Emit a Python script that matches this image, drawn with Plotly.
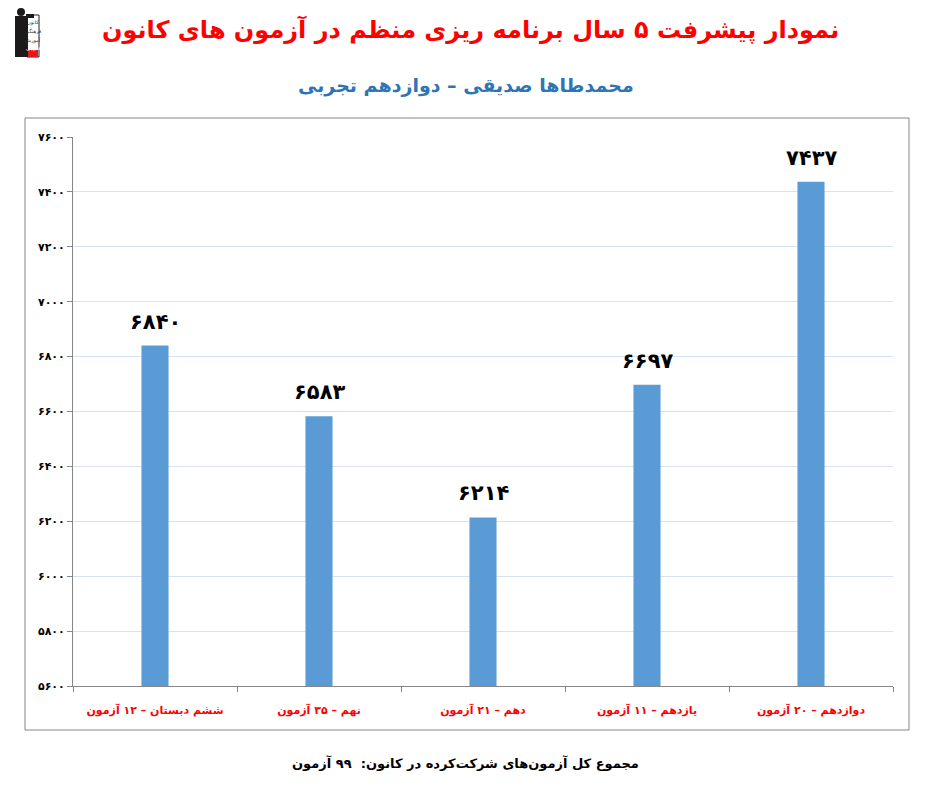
import plotly.graph_objects as go

categories = ["ششم دبستان – ۱۲ آزمون", "نهم – ۳۵ آزمون", "دهم – ۲۱ آزمون",
              "یازدهم – ۱۱ آزمون", "دوازدهم – ۲۰ آزمون"]
values = [6840, 6583, 6214, 6697, 7437]
tick_values = list(range(5600, 7601, 200))

FA = str.maketrans("0123456789", "۰۱۲۳۴۵۶۷۸۹")
def fa(n):
    return str(n).translate(FA)

title_text = "نمودار پیشرفت ۵ سال برنامه ریزی منظم در آزمون های کانون"
subtitle_text = "محمدطاها صدیقی – دوازدهم تجربی"
footer_text = "مجموع کل آزمون‌های شرکت‌کرده در کانون:  ۹۹ آزمون"

FONT = "DejaVu Sans"
O = 8  # page body margin
W, H = 926 - 2 * O, 789 - 2 * O

# reference pixel positions of the plot area
PL, PR, PT, PB = 73, 893, 137, 686
L, R, T, B = PL - O, W - (PR - O), PT - O, H - (PB - O)
PW, PH = W - L - R, H - T - B

def fx(xpix):
    return (xpix - O - L) / PW
def fy(ypix):
    return (H - B - (ypix - O)) / PH

fig = go.Figure(go.Bar(
    x=categories, y=values,
    marker=dict(color="#5B9BD5", line=dict(width=0)),
    width=0.165,
    hoverinfo="skip",
))

for c, v in zip(categories, values):
    fig.add_annotation(x=c, y=v, text="<b>%s</b>" % fa(v), showarrow=False,
                       yshift=24, yanchor="middle",
                       font=dict(family=FONT, size=21, color="black"))

fig.update_layout(
    width=W, height=H,
    margin=dict(l=L, r=R, t=T, b=B),
    paper_bgcolor="white", plot_bgcolor="white",
    showlegend=False,
    font=dict(family=FONT),
    xaxis=dict(
        type="category",
        tickvals=categories,
        ticktext=["<b>%s</b>" % c for c in categories],
        showline=True, linecolor="#868686", linewidth=1,
        ticks="outside", tickson="boundaries", ticklen=5, tickcolor="#868686",
        tickfont=dict(family=FONT, size=11, color="#FF0000"),
        ticklabelstandoff=14,
        showgrid=False,
    ),
    yaxis=dict(
        range=[5600, 7600],
        tickvals=tick_values,
        ticktext=["<b>%s</b>" % fa(t) for t in tick_values],
        showline=True, linecolor="#868686", linewidth=1,
        ticks="outside", ticklen=5, tickcolor="#868686",
        tickfont=dict(family=FONT, size=11, color="black"),
        showgrid=True, gridcolor="#D5E3F5", gridwidth=1,
        zeroline=False,
    ),
)

# outer chart border
fig.add_shape(type="rect", xref="paper", yref="paper",
              x0=fx(25), x1=fx(909), y0=fy(730), y1=fy(118),
              line=dict(color="#868686", width=1), fillcolor="rgba(0,0,0,0)", layer="below")

# simple logo approximation
def rect(x0, y0, x1, y1, fill, line=None):
    fig.add_shape(type="rect", xref="paper", yref="paper",
                  x0=fx(x0), x1=fx(x1), y0=fy(y1), y1=fy(y0),
                  fillcolor=fill, line=dict(width=1 if line else 0, color=line or fill))
rect(27, 15, 39, 57, "white", "#222222")
rect(28, 50, 38, 57, "#E3171B")
rect(15, 16, 28, 57, "#1A1A1A")
rect(26, 14, 34, 18, "#1A1A1A")
fig.add_shape(type="circle", xref="paper", yref="paper",
              x0=fx(17), x1=fx(25), y0=fy(16), y1=fy(8),
              fillcolor="#1A1A1A", line=dict(width=0))
rect(14, 5, 28, 8, "#1A1A1A")
for i, t in enumerate(["کانون", "فرهنگی", "آموزش", "قلم‌چی"]):
    fig.add_annotation(xref="paper", yref="paper", x=fx(33), y=fy(22 + i * 9),
                       text=t, showarrow=False, xanchor="center", yanchor="middle",
                       font=dict(family=FONT, size=5, color="white" if i == 3 else "#333333"))

def add_text(text, xpix, ypix, size, color):
    fig.add_annotation(xref="paper", yref="paper",
                       x=fx(xpix), y=fy(ypix),
                       text="<b>%s</b>" % text, showarrow=False,
                       xanchor="center", yanchor="middle",
                       font=dict(family=FONT, size=size, color=color))

add_text(title_text, 470, 30, 24, "#FF0000")
add_text(subtitle_text, 466, 86, 19, "#2E75B6")
add_text(footer_text, 465, 763, 13, "black")

fig.write_html("out.html")
